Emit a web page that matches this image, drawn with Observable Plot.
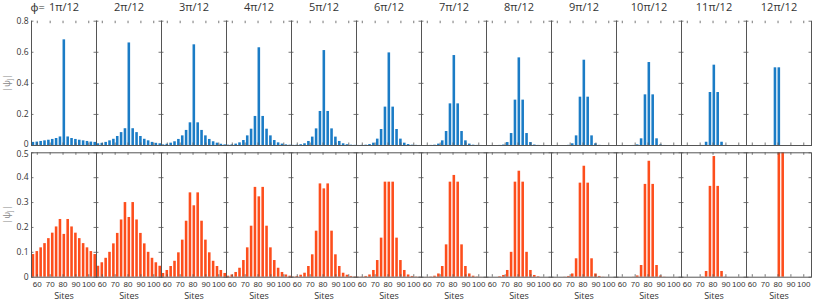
<!DOCTYPE html>
<html><head><meta charset="utf-8">
<script src="https://cdn.jsdelivr.net/npm/d3@7"></script>
<script src="https://cdn.jsdelivr.net/npm/@observablehq/plot@0.6"></script>
<style>
body{margin:0;background:#fff;}
#chart{position:relative;width:814px;height:301px;overflow:hidden;}
#chart svg{display:block;}
</style>
</head><body><div id="chart"></div>
<script>
// ---- data ----
const sites = [57,60,63,66,69,72,75,78,81,84,87,90,93,96,99,102,105];
const phases = ["1π/12","2π/12","3π/12","4π/12","5π/12","6π/12","7π/12","8π/12","9π/12","10π/12","11π/12","12π/12"];
const xTicks = [60,70,80,90,100];
const yTicksTop = [0,0.2,0.4,0.6,0.8];
const yTicksBottom = [0,0.1,0.2,0.3,0.4,0.5];

const blue1  = [0.02,0.022,0.026,0.03,0.034,0.039,0.045,0.055,0.68,0.055,0.045,0.039,0.034,0.03,0.026,0.022,0.02];
const blue2  = [0.011,0.014,0.02,0.03,0.04,0.058,0.083,0.108,0.66,0.108,0.083,0.058,0.04,0.03,0.02,0.014,0.011];
const blue3  = [0.004,0.008,0.015,0.024,0.039,0.062,0.097,0.146,0.648,0.146,0.097,0.062,0.039,0.024,0.015,0.008,0.004];
const blue4  = [0.002,0.004,0.009,0.017,0.032,0.062,0.105,0.187,0.629,0.187,0.105,0.062,0.032,0.017,0.009,0.004,0.002];
const blue5  = [0.001,0.002,0.005,0.011,0.026,0.054,0.107,0.219,0.611,0.219,0.107,0.054,0.026,0.011,0.005,0.002,0.001];
const blue6  = [0.0003,0.001,0.002,0.006,0.015,0.041,0.103,0.247,0.596,0.247,0.103,0.041,0.015,0.006,0.002,0.001,0.0003];
const blue7  = [0,0.0002,0.0006,0.002,0.009,0.03,0.09,0.268,0.579,0.268,0.09,0.03,0.009,0.002,0.0006,0.0002,0];
const blue8  = [0,0,0,0.0005,0.003,0.019,0.077,0.292,0.564,0.292,0.077,0.019,0.003,0.0005,0,0,0];
const blue9  = [0,0,0,0,0.001,0.011,0.062,0.311,0.549,0.311,0.062,0.011,0.001,0,0,0,0];
const blue10 = [0,0,0,0,0.0003,0.004,0.043,0.326,0.534,0.326,0.043,0.004,0.0003,0,0,0,0];
const blue11 = [0,0,0,0,0,0.0005,0.021,0.341,0.517,0.341,0.021,0.0005,0,0,0,0,0];
const blue12 = [0,0,0,0,0,0,0,0.5,0.5,0,0,0,0,0,0,0,0];

const orange1  = [0.091,0.103,0.118,0.135,0.155,0.177,0.202,0.232,0.172,0.232,0.202,0.177,0.155,0.135,0.118,0.103,0.091];
const orange2  = [0.044,0.058,0.076,0.1,0.134,0.176,0.23,0.3,0.24,0.3,0.23,0.176,0.134,0.1,0.076,0.058,0.044];
const orange3  = [0.015,0.027,0.043,0.064,0.098,0.149,0.225,0.339,0.287,0.339,0.225,0.149,0.098,0.064,0.043,0.027,0.015];
const orange4  = [0.004,0.009,0.019,0.036,0.067,0.118,0.205,0.361,0.323,0.361,0.205,0.118,0.067,0.036,0.019,0.009,0.004];
const orange5  = [0.001,0.003,0.008,0.016,0.043,0.09,0.185,0.375,0.355,0.375,0.185,0.09,0.043,0.016,0.008,0.003,0.001];
const orange6  = [0.0005,0.001,0.003,0.009,0.027,0.067,0.157,0.382,0.382,0.382,0.157,0.067,0.027,0.009,0.003,0.001,0.0005];
const orange7  = [0,0.0003,0.001,0.004,0.013,0.043,0.13,0.382,0.409,0.382,0.13,0.043,0.013,0.004,0.001,0.0003,0];
const orange8  = [0,0,0,0.002,0.007,0.027,0.1,0.382,0.426,0.382,0.1,0.027,0.007,0.002,0,0,0];
const orange9  = [0,0,0,0.0005,0.003,0.013,0.074,0.378,0.446,0.378,0.074,0.013,0.003,0.0005,0,0,0];
const orange10 = [0,0,0,0,0.0005,0.005,0.047,0.373,0.466,0.373,0.047,0.005,0.0005,0,0,0,0];
const orange11 = [0,0,0,0,0,0.001,0.023,0.365,0.485,0.365,0.023,0.001,0,0,0,0,0];
const orange12 = [0,0,0,0,0,0,0,0,0.5,0.5,0,0,0,0,0,0,0];

const blueRows = [blue1,blue2,blue3,blue4,blue5,blue6,blue7,blue8,blue9,blue10,blue11,blue12];
const orangeRows = [orange1,orange2,orange3,orange4,orange5,orange6,orange7,orange8,orange9,orange10,orange11,orange12];

function toTable(rows) {
  return rows.flatMap((vals, i) => vals.map((v, j) => ({phase: phases[i], site: sites[j], v})));
}

// ---- layout ----
const W = 814, ML = 28, MR = 1;
const xDomain = [55.5, 106];
const FONT = "'Open Sans', 'Noto Sans', sans-serif";
const TICKFONT = "'Liberation Sans', Arial, sans-serif";
const BLUE = "#1b7cc6", ORANGE = "#fd4e1c", AXIS = "#555", TXT = "#333";

function row({rows, color, yMax, yTicks, height, marginTop, marginBottom, top}) {
  const pxPerUnitX = (W - ML - MR) / 12 / (xDomain[1] - xDomain[0]);
  const tx = 2.5 / pxPerUnitX;
  const ty = 2.5 * yMax / (height - marginTop - marginBottom);
  const fmt = d => d === 0 ? "0" : d.toFixed(1);
  const marks = [
    Plot.rectY(toTable(rows), {fx: "phase", x1: d => d.site - 1, x2: d => d.site + 1, y1: 0, y2: "v", fill: color}),
    Plot.ruleY(yTicks, {x1: xDomain[0], x2: xDomain[0] + tx, stroke: AXIS, strokeWidth: 0.8}),
    Plot.ruleY(yTicks, {x1: xDomain[1] - tx, x2: xDomain[1], stroke: AXIS, strokeWidth: 0.8}),
    Plot.ruleX(xTicks, {y1: 0, y2: ty, stroke: AXIS, strokeWidth: 0.8}),
    Plot.ruleX(xTicks, {y1: yMax - ty, y2: yMax, stroke: AXIS, strokeWidth: 0.8})
  ];
  if (top) {
    marks.push(
      Plot.frame({anchor: "left", stroke: AXIS, strokeWidth: 1}),
      Plot.frame({anchor: "right", stroke: AXIS, strokeWidth: 1}),
      Plot.frame({anchor: "bottom", stroke: AXIS, strokeWidth: 1}),
      Plot.axisY({ticks: yTicks.filter(d => d > 0), tickSize: 0, tickPadding: 3, label: null, fontSize: 8.5, fill: TXT, fontFamily: FONT, tickFormat: fmt}),
      Plot.axisY({ticks: [0], tickSize: 0, tickPadding: 3, label: null, fontSize: 8.5, fill: TXT, fontFamily: FONT, tickFormat: fmt, dy: -1.5}),
      Plot.axisFx({anchor: "top", tickSize: 0, tickPadding: 10.5, label: null, fontSize: 11, fill: TXT}),
      Plot.text([{phase: phases[0]}], {fx: "phase", frameAnchor: "top-left", text: () => "ϕ=",
        textAnchor: "start", lineAnchor: "bottom", dx: -1, dy: -10.5, fontSize: 11, fill: TXT})
    );
  } else {
    marks.push(
      Plot.frame({stroke: AXIS, strokeWidth: 1}),
      Plot.axisY({ticks: yTicks.filter(d => d < yMax), tickSize: 0, tickPadding: 3, label: null, fontSize: 8.5, fill: TXT, fontFamily: FONT, tickFormat: fmt}),
      Plot.axisY({ticks: [yMax], tickSize: 0, tickPadding: 3, label: null, fontSize: 8.5, fill: TXT, fontFamily: FONT, tickFormat: fmt, dy: 1.5}),
      Plot.axisX({ticks: xTicks, tickSize: 0, tickPadding: 4.5, label: null, fontSize: 8, fontFamily: TICKFONT, fill: TXT}),
      Plot.text(phases, {fx: d => d, frameAnchor: "bottom", text: () => "Sites",
        textAnchor: "middle", lineAnchor: "top", dy: 15.5, fontSize: 9, fill: TXT})
    );
  }
  const p = Plot.plot({
    width: W, height, marginTop, marginBottom, marginLeft: ML, marginRight: MR,
    style: {fontFamily: FONT, background: "#fff", overflow: "visible", color: TXT},
    fx: {domain: phases, padding: 0, axis: top ? undefined : null},
    x: {domain: xDomain, axis: null},
    y: {domain: [0, yMax], axis: null},
    marks
  });
  // y label |ψ_j|
  const mid = marginTop + (height - marginTop - marginBottom) / 2;
  const t = d3.select(p).append("text")
    .attr("transform", `translate(10,${mid}) rotate(-90)`)
    .attr("text-anchor", "middle")
    .attr("font-family", FONT).attr("font-size", 9).attr("fill", "#888");
  t.append("tspan").text("|ψ");
  t.append("tspan").attr("font-size", 6.5).attr("dy", 2).text("j");
  t.append("tspan").attr("dy", -2).text("|");
  return p;
}

const chart = document.getElementById("chart");
chart.append(row({rows: blueRows, color: BLUE, yMax: 0.8, yTicks: yTicksTop, height: 148, marginTop: 20.7, marginBottom: 3, top: true}));
chart.append(row({rows: orangeRows, color: ORANGE, yMax: 0.5, yTicks: yTicksBottom, height: 153, marginTop: 4.3, marginBottom: 24.3, top: false}));
</script>
</body></html>
